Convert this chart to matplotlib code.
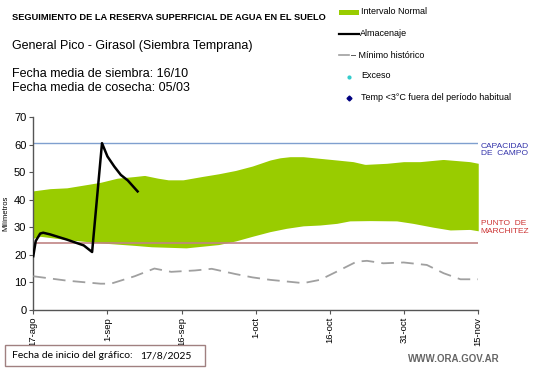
import matplotlib
matplotlib.use("Agg")
import matplotlib.pyplot as plt
from matplotlib.patches import Rectangle
from matplotlib.lines import Line2D
import numpy as np

plt.rcParams['font.family'] = ['Liberation Sans', 'DejaVu Sans']

# Days since 17-ago-2025
tick_days = [0, 15, 30, 45, 60, 75, 90]
tick_labels = ["17-ago", "1-sep", "16-sep", "1-oct", "16-oct", "31-oct", "15-nov"]

upper_days = [0, 3.4, 6.8, 10.2, 13.6, 17, 20.5, 22.5, 25.2, 27.3, 30.3, 34.1, 37.5, 40.9, 44.3,
              47.9, 49.9, 51.9, 54.6, 58, 61.4, 64.7, 67.1, 71.5, 74.9, 78.2, 82.9, 85.6, 88.3, 90]
upper_vals = [43.2, 44.0, 44.3, 45.3, 46.3, 47.8, 48.4, 48.8, 47.8, 47.2, 47.2, 48.4, 49.4, 50.6, 52.2,
              54.4, 55.2, 55.6, 55.6, 55.0, 54.4, 53.8, 52.8, 53.2, 53.8, 53.8, 54.6, 54.2, 53.8, 53.2]

lower_days = [0, 1.4, 6.8, 13.6, 20.5, 23.9, 30.9, 37.5, 40.9, 44.3, 47.9, 51.2, 54.6, 58, 61.4, 64.0,
              68.1, 73.5, 76.8, 80.9, 84.3, 88.3, 90]
lower_vals = [26.0, 26.7, 25.5, 24.3, 23.4, 22.9, 22.5, 23.7, 25.0, 26.7, 28.4, 29.6, 30.5, 30.8, 31.4,
              32.3, 32.4, 32.3, 31.4, 30.0, 29.0, 29.2, 28.7]

min_days = [0, 6.8, 13.6, 15.7, 20.5, 24.5, 27.9, 32.7, 36.1, 40.9, 44.3, 47.9, 54.6, 58, 61.4, 65.4,
            67.5, 70.8, 74.9, 79.6, 83, 86.4, 90]
min_vals = [12.2, 10.6, 9.5, 9.5, 12.2, 15.0, 13.8, 14.3, 14.9, 13.0, 11.8, 10.9, 9.7, 10.9, 13.9, 17.5,
            17.8, 16.9, 17.2, 16.3, 13.3, 11.1, 11.1]

alm_days = [0, 0.5, 1.4, 2.0, 3.4, 6.8, 10.2, 11.9, 13.9, 15.0, 16.4, 17.7, 19.1, 21.1]
alm_vals = [19.5, 25.0, 27.7, 28.0, 27.4, 25.5, 23.4, 21.0, 60.5, 55.7, 52.0, 49.0, 47.0, 43.0]

capacidad = 60.6
marchitez = 24.1

fig = plt.figure(figsize=(5.41, 3.68), dpi=100)
ax = fig.add_axes([0.0615, 0.158, 0.8225, 0.524])

grid = np.linspace(0, 90, 400)
up = np.interp(grid, upper_days, upper_vals)
lo = np.interp(grid, lower_days, lower_vals)
ax.fill_between(grid, lo, up, color="#99cc00", linewidth=0, zorder=1)
ax.axhline(capacidad, xmin=0, xmax=1, color="#7f9fcf", lw=1.0, zorder=2)
ax.axhline(marchitez, xmin=0, xmax=1, color="#c08484", lw=1.2, zorder=2)
ax.plot(min_days, min_vals, color="#a0a0a0", lw=1.3, dashes=(7, 4), zorder=3)
ax.plot(alm_days, alm_vals, color="black", lw=1.8, zorder=4)

ax.set_xlim(0, 90)
ax.set_ylim(0, 70)
ax.set_yticks(range(0, 71, 10))
ax.set_xticks(tick_days)
ax.set_xticklabels(tick_labels, rotation=90, fontsize=6.8)
ax.tick_params(axis='y', labelsize=8, length=3, color="#555555", pad=2)
ax.tick_params(axis='x', length=3, color="#555555", pad=2)
for s in ["top", "right"]:
    ax.spines[s].set_visible(False)
for s in ["left", "bottom"]:
    ax.spines[s].set_color("#555555")
    ax.spines[s].set_linewidth(1.0)
ax.set_ylabel("Milímetros", fontsize=5.5, labelpad=3)

ax.text(90.5, capacidad, "CAPACIDAD\nDE  CAMPO", color="#3333aa", fontsize=6,
        va="top", ha="left", linespacing=1.1)
ax.text(90.5, 32.5, "PUNTO  DE\nMARCHITEZ", color="#cc3333", fontsize=6,
        va="top", ha="left", linespacing=1.1)

W, H = 541, 368
def fx(px): return px / W
def fy(py): return 1 - py / H

fig.text(fx(12), fy(17), "SEGUIMIENTO DE LA RESERVA SUPERFICIAL DE AGUA EN EL SUELO",
         fontsize=6.7, fontweight="bold", va="center", ha="left")
fig.text(fx(12), fy(46), "General Pico - Girasol (Siembra Temprana)", fontsize=9, va="center")
fig.text(fx(12), fy(74), "Fecha media de siembra: 16/10", fontsize=9, va="center")
fig.text(fx(12), fy(88), "Fecha media de cosecha: 05/03", fontsize=9, va="center")

# legend
fig.patches.append(Rectangle((fx(339), fy(15)), fx(20), 5 / H, transform=fig.transFigure,
                             color="#99cc00", lw=0))
fig.text(fx(361), fy(12), "Intervalo Normal", fontsize=6.5, va="center")
fig.lines.append(Line2D([fx(339), fx(359)], [fy(34), fy(34)], transform=fig.transFigure,
                        color="black", lw=1.6))
fig.text(fx(360), fy(34), "Almacenaje", fontsize=6.5, va="center")
fig.lines.append(Line2D([fx(339), fx(349)], [fy(55), fy(55)], transform=fig.transFigure,
                        color="#a0a0a0", lw=1.2))
fig.text(fx(351), fy(55), "– Mínimo histórico", fontsize=6.5, va="center")
fig.lines.append(Line2D([fx(349)], [fy(77)], transform=fig.transFigure, marker="o",
                        markersize=2, color="#33cccc", lw=0))
fig.text(fx(361), fy(76), "Exceso", fontsize=6.5, va="center")
fig.lines.append(Line2D([fx(349)], [fy(98)], transform=fig.transFigure, marker="D",
                        markersize=2.5, color="#000080", lw=0))
fig.text(fx(361), fy(98), "Temp <3°C fuera del período habitual", fontsize=6.5, va="center")

# bottom box
fig.patches.append(Rectangle((fx(5), fy(366)), fx(200), 21 / H, transform=fig.transFigure,
                             facecolor="white", edgecolor="#a08080", lw=1))
fig.text(fx(12), fy(356), "Fecha de inicio del gráfico:", fontsize=7.5, va="center",
         family=["Lato", "DejaVu Sans"])
fig.text(fx(140), fy(356), "17/8/2025", fontsize=7.5, va="center",
         family=["Lato", "DejaVu Sans"])
fig.text(fx(500), fy(359), "WWW.ORA.GOV.AR", fontsize=7, color="#666666", ha="right",
         va="center", fontweight="bold")

fig.savefig("out.png", dpi=100)
